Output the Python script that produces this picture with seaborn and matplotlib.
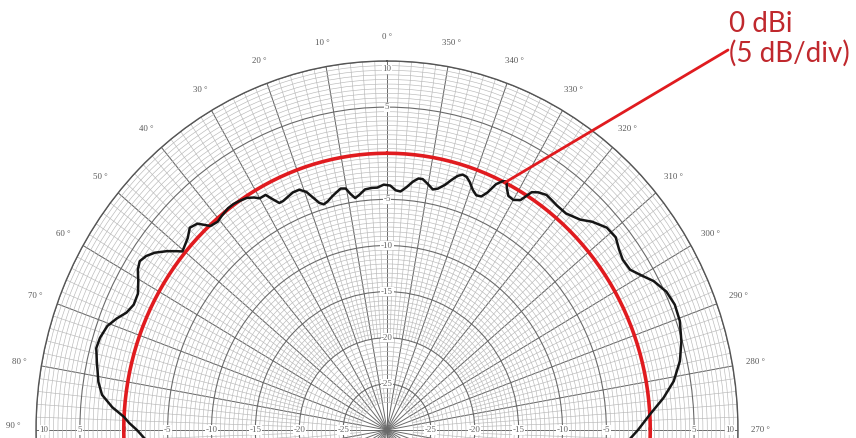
import numpy as np
import matplotlib
matplotlib.use("Agg")
import matplotlib.pyplot as plt
import seaborn as sns

# antenna pattern: angle (deg, ccw from 0 deg at top) and gain (dBi)
angles_deg = [92, 90, 88.5, 87.3, 85.5, 83.3, 81, 77.3, 75, 73, 70.5, 68.6, 66.8, 64.8,
              62.5, 60.4, 58.5, 57, 55.5, 54, 52.3, 51, 50.3, 47.5, 45.7, 44, 42.3,
              40.5, 39, 37, 35.5, 34.3, 32.4, 31, 30, 28.5, 27.5, 26.5, 25.5, 24, 22.6,
              21, 19.6, 18.4, 17.4, 16.4, 15.2, 13.8, 12.6, 11.4, 10.2, 9.2, 8.2, 7,
              5.5, 3.8, 2.4, 0.8, -0.8, -2.2, -3.4, -4.8, -6.3, -7.5, -8.5, -9.8,
              -11.3, -12.5, -14, -15.2, -16.3, -17.3, -18.3, -19.3, -20.6, -21.8, -23,
              -24, -25, -26, -26.8, -27.6, -28.6, -30, -31.4, -32.6, -33.8, -35.5, -37,
              -38.5, -41, -44, -46, -48.8, -51.3, -53.5, -55.5, -57.9, -60, -62, -64.8,
              -67.5, -70.5, -74, -77.4, -80.8, -83.7, -86.8, -90, -92]
gain_db = [-2.4, -1.5, -0.6, 0.0, 1.4, 2.7, 3.3, 3.9, 4.3, 4.2, 3.8, 3.1, 2.3, 1.9,
           2.0, 2.6, 3.3, 3.6, 3.3, 2.7, 1.7, 0.8, 0.3, 0.8, 1.4, 1.1, -0.1,
           -0.3, -0.1, 0.1, 0.1, 0.0, -0.2, -0.6, -1.0, -1.0, -1.8, -2.5, -2.5, -2.3, -2.1,
           -2.1, -2.6, -3.5, -4.2, -4.5, -4.3, -3.9, -3.6, -3.3, -3.4, -4.1, -4.6, -4.3,
           -3.8, -3.7, -3.7, -3.4, -3.5, -4.0, -4.1, -3.6, -2.9, -2.5, -2.5, -2.9,
           -3.4, -3.2, -2.6, -1.9, -1.3, -1.0, -1.1, -1.5, -2.2, -2.6, -2.5,
           -1.8, -0.6, 0.0, 0.2, -0.5, -1.1, -1.2, -0.8, 0.6, 1.0, 1.3, 1.2,
           1.1, 1.1, 1.7, 2.5, 3.3, 3.4, 2.9, 2.6, 2.7, 3.5, 4.4, 5.2,
           5.5, 5.4, 4.9, 4.2, 3.1, 1.7, 0.0, -1.4, -2.3]

ring_db = [-25, -20, -15, -10, -5, 0, 5, 10]
ring_labels = ["-25", "-20", "-15", "-10", "-5", "0", "5", "10"]
angle_ticks = [0, 10, 20, 30, 40, 50, 60, 70, 80, 90,
               -10, -20, -30, -40, -50, -60, -70, -80, -90]
angle_labels = ["0 °", "10 °", "20 °", "30 °", "40 °", "50 °", "60 °", "70 °", "80 °", "90 °",
                "350 °", "340 °", "330 °", "320 °", "310 °", "300 °", "290 °", "280 °", "270 °"]
ref_level = 0  # 0 dBi reference circle

red = "#e01b1f"
text_red = "#c0282d"
grid_dark = "#6a6a6a"
grid_light = "#b8b8b8"

sns.set_theme(style="white")

fig = plt.figure(figsize=(8.56, 4.38), dpi=100)
ax = fig.add_axes([36 / 856, (8 - 369) / 438, 702 / 856, 738 / 438], projection="polar")
ax.set_aspect("auto")
ax.set_theta_zero_location("N")
ax.set_theta_direction(1)
ax.set_rlim(-30, 10)

# grid
ax.set_xticks(np.deg2rad(np.arange(0, 360, 10)))
ax.set_xticklabels([])
ax.set_yticks(ring_db)
ax.set_yticklabels([])
ax.set_yticks(np.arange(-27, 10, 0.5), minor=True)
ax.yaxis.grid(True, which="major", color=grid_dark, lw=0.8)
ax.yaxis.grid(True, which="minor", color=grid_light, lw=0.45)
ax.xaxis.grid(True, which="major", color=grid_dark, lw=0.7)
ax.tick_params(axis="both", length=0)
fine = np.deg2rad(np.arange(0, 360, 2))
ax.vlines(fine, -20, 10, color=grid_light, lw=0.45, zorder=0)
mid = np.deg2rad(np.arange(0, 360, 5))
ax.vlines(mid, -27, -20, color=grid_light, lw=0.45, zorder=0)
ax.spines["polar"].set_color("#555555")
ax.spines["polar"].set_linewidth(1.0)

# ring labels along 0, 90 and 270 deg
for lab_angle in [0, 90, -90]:
    for val, lab in zip(ring_db, ring_labels):
        if lab_angle == 0 and val == 0:
            continue
        rpos = val - 0.9 if val == 10 else val
        ax.text(np.deg2rad(lab_angle), rpos, lab, fontsize=6.5, color="#666666",
                family="Liberation Serif", ha="center", va="center",
                bbox=dict(facecolor="white", edgecolor="none", pad=0.4), zorder=3)

# angle labels
for a, lab in zip(angle_ticks, angle_labels):
    va = "bottom" if a == 90 else "center"
    ax.text(np.deg2rad(a), 12.6, lab, fontsize=6.3, color="#555555",
            family="Liberation Serif", ha="center", va=va, clip_on=False)

# 0 dBi reference and measured pattern
circle_theta = np.deg2rad(np.arange(0, 361, 1))
sns.lineplot(x=circle_theta, y=np.full(circle_theta.shape, ref_level), ax=ax,
             color=red, lw=2.6, sort=False, estimator=None, zorder=4)
sns.lineplot(x=np.deg2rad(angles_deg), y=gain_db, ax=ax, color="#151515", lw=1.8,
             sort=False, estimator=None, zorder=5)
ax.set_xlabel("")
ax.set_ylabel("")

ax.annotate("", xy=(np.deg2rad(-26.6), ref_level), xycoords="data",
            xytext=(728 / 856, 1 - 50 / 438), textcoords="figure fraction",
            arrowprops=dict(arrowstyle="-", color=red, lw=2.0, shrinkA=0, shrinkB=0),
            zorder=6)
fig.text(729 / 856, 1 - 11 / 438, "0 dBi\n(5 dB/div)", color=text_red, fontsize=20,
         family="Lato", ha="left", va="top", linespacing=1.12)

fig.savefig("out.png", dpi=100)
